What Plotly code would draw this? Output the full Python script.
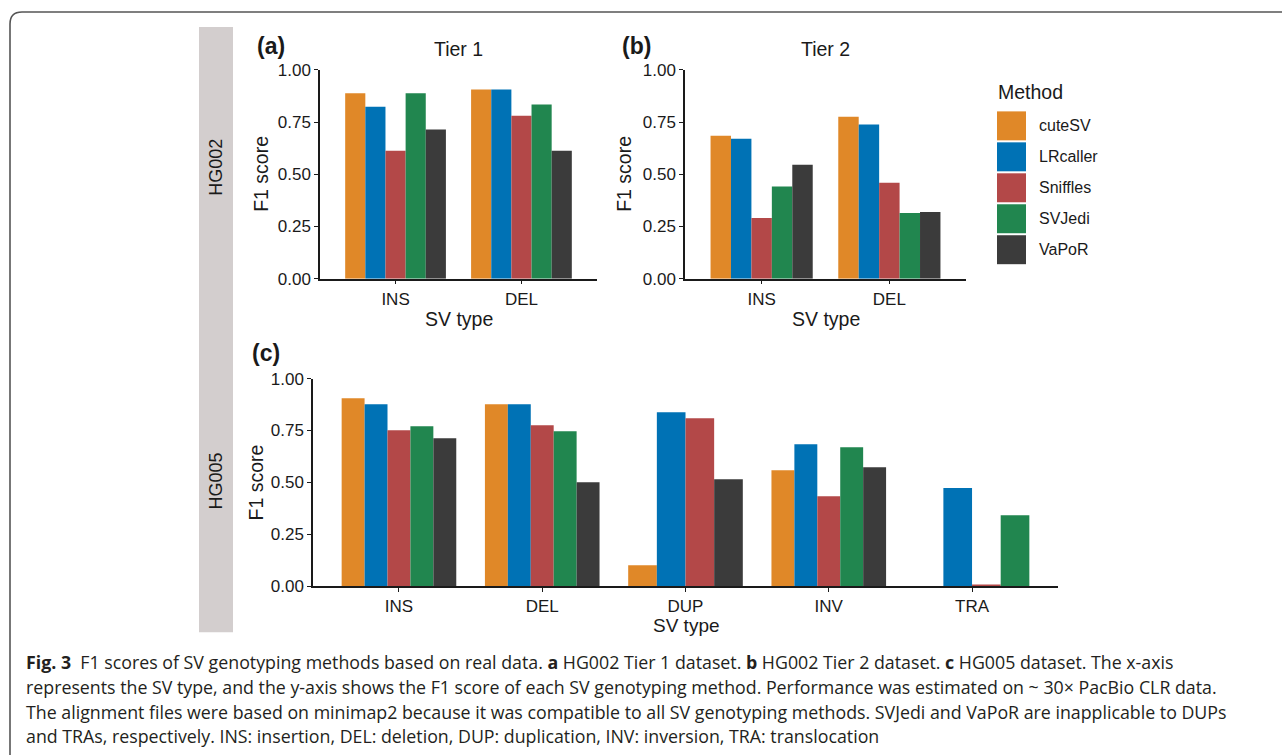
import plotly.graph_objects as go

W, H = 1282, 755

methods = ["cuteSV", "LRcaller", "Sniffles", "SVJedi", "VaPoR"]
colors = ["#E08828", "#0072B5", "#B34848", "#21864F", "#3B3B3B"]

cats_ab = ["INS", "DEL"]
cats_c = ["INS", "DEL", "DUP", "INV", "TRA"]

# F1 score per method, in category order
tier1 = {
    "cuteSV":   [0.888, 0.906],
    "LRcaller": [0.824, 0.906],
    "Sniffles": [0.613, 0.781],
    "SVJedi":   [0.888, 0.834],
    "VaPoR":    [0.715, 0.613],
}
tier2 = {
    "cuteSV":   [0.685, 0.776],
    "LRcaller": [0.670, 0.738],
    "Sniffles": [0.291, 0.459],
    "SVJedi":   [0.442, 0.315],
    "VaPoR":    [0.546, 0.320],
}
hg005 = {
    "cuteSV":   [0.905, 0.876, 0.101, 0.559, 0.0],
    "LRcaller": [0.876, 0.876, 0.838, 0.684, 0.473],
    "Sniffles": [0.751, 0.775, 0.809, 0.433, 0.004],
    "SVJedi":   [0.770, 0.746, None, 0.669, 0.342],
    "VaPoR":    [0.713, 0.501, 0.515, 0.573, None],
}

FONT = "Liberation Sans, Arial, Helvetica, sans-serif"
INK = "#1a1a1a"

# vertical placement correction measured for the capture pipeline
Y_OFF, Y_SCALE = 8.0, 0.976


def px(x):
    return x / W


def py(y):
    return 1 - ((y - Y_OFF) / Y_SCALE) / H


fig = go.Figure()
GROUP = 0.8


def add_panel(data, cats, xa, ya):
    n_cat = len(cats)
    present = [[m for m in methods if data[m][j] is not None] for j in range(n_cat)]
    for k, m in enumerate(methods):
        widths, offsets = [], []
        for j in range(n_cat):
            pres = present[j]
            w = GROUP / len(pres)
            idx = pres.index(m) if m in pres else 0
            widths.append(w)
            offsets.append(-GROUP / 2 + idx * w)
        fig.add_trace(go.Bar(
            x=cats, y=data[m], name=m, width=widths, offset=offsets,
            marker=dict(color=colors[k], line=dict(width=0)),
            xaxis=xa, yaxis=ya, showlegend=False, hoverinfo="x+y+name",
        ))


add_panel(tier1, cats_ab, "x", "y")
add_panel(tier2, cats_ab, "x2", "y2")
add_panel(hg005, cats_c, "x3", "y3")

axis_common = dict(showline=True, linecolor=INK, linewidth=1.5, ticks="outside",
                   ticklen=4, tickwidth=1.3, tickcolor=INK, showgrid=False,
                   zeroline=False, tickfont=dict(family=FONT, size=17, color=INK))
yticks = [0, 0.25, 0.5, 0.75, 1.0]
ycommon = dict(axis_common, range=[0, 1], tickvals=yticks,
               ticktext=[f"{v:.2f}" for v in yticks], fixedrange=True)

fig.update_layout(
    xaxis=dict(axis_common, type="category", domain=[px(320), px(597)], range=[-0.6, 1.6], anchor="y"),
    yaxis=dict(ycommon, domain=[py(278), py(69)], anchor="x"),
    xaxis2=dict(axis_common, type="category", domain=[px(685), px(966)], range=[-0.6, 1.6], anchor="y2"),
    yaxis2=dict(ycommon, domain=[py(278), py(69)], anchor="x2"),
    xaxis3=dict(axis_common, type="category", domain=[px(313), px(1058)], range=[-0.6, 4.6], anchor="y3"),
    yaxis3=dict(ycommon, domain=[py(586), py(378)], anchor="x3"),
)

shapes = []
# facet strip
shapes.append(dict(type="rect", xref="paper", yref="paper", x0=px(199), x1=px(233),
                   y0=py(632), y1=py(26), fillcolor="#D3CECE", line=dict(width=0), layer="below"))
# rounded frame (bottom corner lies just below the visible area)
r = 12
L, T, B, R = 10, 11, 772, 1300
path = (f"M {px(R)},{py(T)} L {px(L + r)},{py(T)} Q {px(L)},{py(T)} {px(L)},{py(T + r)} "
        f"L {px(L)},{py(B - r)} Q {px(L)},{py(B)} {px(L + r)},{py(B)} L {px(R)},{py(B)}")
shapes.append(dict(type="path", xref="paper", yref="paper", path=path,
                   line=dict(color="#555555", width=1.6)))

annotations = []


def txt(x, y, s, size, bold=False, angle=0, xanchor="center", color=INK, family=FONT):
    annotations.append(dict(
        x=px(x), y=py(y), xref="paper", yref="paper", text=f"<b>{s}</b>" if bold else s,
        showarrow=False, xanchor=xanchor, yanchor="middle", textangle=angle,
        font=dict(family=family, size=size, color=color),
    ))


# legend
leg_x0, leg_top, key, pitch = 997, 110.5, 29, 31
txt(996, 91, "Method", 19.5, xanchor="left")
for k, m in enumerate(methods):
    y0 = leg_top + k * pitch
    shapes.append(dict(type="rect", xref="paper", yref="paper", x0=px(leg_x0), x1=px(leg_x0 + key),
                       y0=py(y0 + key), y1=py(y0), fillcolor=colors[k], line=dict(width=0)))
    txt(1037, y0 + key / 2, m, 16, xanchor="left")

# panel labels and titles
txt(271, 45, "(a)", 23, bold=True)
txt(636, 45, "(b)", 23, bold=True)
txt(266, 352, "(c)", 23, bold=True)
txt(458.5, 48, "Tier 1", 19.5)
txt(825.5, 48, "Tier 2", 19.5)

# axis titles
txt(261, 173, "F1 score", 19.5, angle=-90)
txt(624, 173, "F1 score", 19.5, angle=-90)
txt(256, 482, "F1 score", 19.5, angle=-90)
txt(458.5, 318, "SV type", 19.5)
txt(825.5, 318, "SV type", 19.5)
txt(686, 625, "SV type", 19)

# strip labels
txt(216, 167, "HG002", 18, angle=-90)
txt(216, 481, "HG005", 18, angle=-90)

# caption
CAP = "Open Sans, sans-serif"
cap_lines = [
    "<b>Fig. 3</b>  F1 scores of SV genotyping methods based on real data. <b>a</b> HG002 Tier 1 dataset. <b>b</b> HG002 Tier 2 dataset. <b>c</b> HG005 dataset. The x-axis",
    "represents the SV type, and the y-axis shows the F1 score of each SV genotyping method. Performance was estimated on ~ 30\u00d7 PacBio CLR data.",
    "The alignment files were based on minimap2 because it was compatible to all SV genotyping methods. SVJedi and VaPoR are inapplicable to DUPs",
    "and TRAs, respectively. INS: insertion, DEL: deletion, DUP: duplication, INV: inversion, TRA: translocation",
]
for i, line in enumerate(cap_lines):
    txt(24, 662 + i * 24.7, line, 17.8, xanchor="left", color="#231F20", family=CAP)

fig.update_layout(
    width=W, height=H, margin=dict(l=0, r=0, t=0, b=0),
    paper_bgcolor="white", plot_bgcolor="white", barmode="overlay",
    shapes=shapes, annotations=annotations, showlegend=False,
    font=dict(family=FONT, color=INK),
)

fig.write_html("out.html")
